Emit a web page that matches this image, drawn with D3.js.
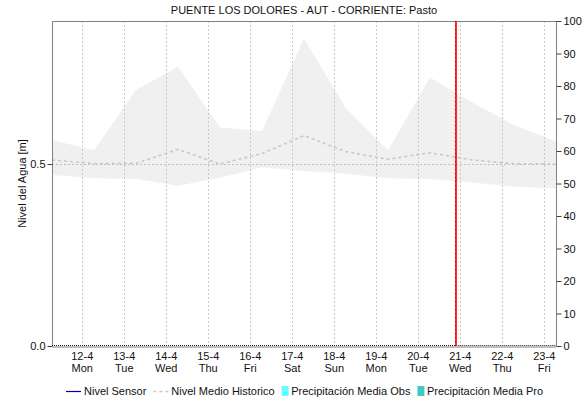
<!DOCTYPE html>
<html><head><meta charset="utf-8">
<script src="https://cdn.jsdelivr.net/npm/d3@7"></script>
<style>
html,body{margin:0;padding:0;background:#fff;}
svg{display:block;font-family:"Liberation Sans",Arial,sans-serif;}
</style></head><body>
<svg id="c" width="582" height="405"></svg>
<script>
const title = "PUENTE LOS DOLORES - AUT - CORRIENTE: Pasto";
const yLabel = "Nivel del Agua [m]";
const pointTimes = ["2021-04-11T07:00Z","2021-04-12T07:00Z","2021-04-13T07:00Z","2021-04-14T07:00Z","2021-04-15T07:00Z","2021-04-16T07:00Z","2021-04-17T07:00Z","2021-04-18T07:00Z","2021-04-19T07:00Z","2021-04-20T07:00Z","2021-04-21T07:00Z","2021-04-22T07:00Z","2021-04-23T07:00Z"];
const bandMax = [0.566,0.538,0.703,0.767,0.600,0.591,0.845,0.653,0.538,0.738,0.670,0.607,0.562];
const bandMin = [0.470,0.461,0.459,0.440,0.462,0.491,0.481,0.473,0.461,0.459,0.449,0.438,0.433];
const meanHist = [0.511,0.501,0.502,0.540,0.500,0.529,0.578,0.534,0.513,0.531,0.511,0.501,0.500];
const sensorTimes = ["2021-04-11T07:00Z","2021-04-20T22:00Z"];
const sensorValues = [0,0];
const nowTime = "2021-04-20T22:00Z";
const tickDates = ["2021-04-12","2021-04-13","2021-04-14","2021-04-15","2021-04-16","2021-04-17","2021-04-18","2021-04-19","2021-04-20","2021-04-21","2021-04-22","2021-04-23"];
const dayLabels = ["12-4","13-4","14-4","15-4","16-4","17-4","18-4","19-4","20-4","21-4","22-4","23-4"];
const weekdayLabels = ["Mon","Tue","Wed","Thu","Fri","Sat","Sun","Mon","Tue","Wed","Thu","Fri"];
const leftTicks = [0, 0.5];
const rightTicks = [0,10,20,30,40,50,60,70,80,90,100];
const legendItems = [
  {name:"Nivel Sensor", type:"line", color:"#0000aa"},
  {name:"Nivel Medio Historico", type:"dash", color:"#c8c8c8"},
  {name:"Precipitación Media Obs", type:"box", color:"#66ffff"},
  {name:"Precipitación Media Pro", type:"box", color:"#40c8c8"}
];

const svg = d3.select("#c");
const L = 52, R = 556, T = 21, B = 346;
const x = d3.scaleUtc().domain([new Date("2021-04-11T07:00Z"), new Date("2021-04-23T07:00Z")]).range([L, R]);
const yL = d3.scaleLinear().domain([0, 0.8929]).range([B, T]);
const yR = d3.scaleLinear().domain([0, 100]).range([B, T]);

const pts = pointTimes.map((t,i)=>({t:new Date(t), hi:bandMax[i], lo:bandMin[i], m:meanHist[i]}));

// band
svg.append("path").datum(pts)
  .attr("d", d3.area().x(d=>x(d.t)).y0(d=>yL(d.lo)).y1(d=>yL(d.hi)))
  .attr("fill","#f0f0f0");

// vertical grid
svg.append("g").selectAll("line").data(tickDates).join("line")
  .attr("x1",d=>Math.round(x(new Date(d+"T00:00Z")))+0.5).attr("x2",d=>Math.round(x(new Date(d+"T00:00Z")))+0.5)
  .attr("y1",T).attr("y2",B)
  .attr("stroke","#c8c8c8").attr("stroke-dasharray","2,2");
// horizontal grid at left ticks
svg.append("g").selectAll("line").data(leftTicks.filter(v=>v>0)).join("line")
  .attr("x1",L).attr("x2",R).attr("y1",d=>Math.round(yL(d))+0.5).attr("y2",d=>Math.round(yL(d))+0.5)
  .attr("stroke","#c0c0c0").attr("stroke-dasharray","2,2");

// mean historic line
svg.append("path").datum(pts)
  .attr("d", d3.line().x(d=>x(d.t)).y(d=>yL(d.m)))
  .attr("fill","none").attr("stroke","#c8c8c8").attr("stroke-width",1.6).attr("stroke-dasharray","3,3");

// frame
svg.append("line").attr("x1",L).attr("x2",R).attr("y1",T+0.5).attr("y2",T+0.5).attr("stroke","#808080");

// left axis
const gl = svg.append("g").attr("transform",`translate(${L+0.5},0)`)
  .call(d3.axisLeft(yL).tickValues(leftTicks).tickFormat(d3.format(".1f")).tickSize(5).tickPadding(2));
// right axis
const gr = svg.append("g").attr("transform",`translate(${R+0.5},0)`)
  .call(d3.axisRight(yR).tickValues(rightTicks).tickSize(5).tickPadding(2));
[gl,gr].forEach(g=>{
  g.select(".domain").attr("stroke","#808080").attr("d", `M0,${T}V${B}`);
  g.selectAll(".tick line").attr("stroke","#404040");
  g.selectAll("text").attr("font-size","11px").attr("fill","#111").attr("font-family","Liberation Sans, Arial, sans-serif");
});

// bottom axis
const gb = svg.append("g").attr("transform",`translate(0,${B+0.5})`)
  .call(d3.axisBottom(x).tickValues(tickDates.map(d=>new Date(d+"T00:00Z"))).tickSize(0).tickFormat(""));
gb.select(".domain").attr("stroke","#808080");
gb.selectAll(".tick").each(function(d,i){
  const t = d3.select(this);
  t.append("text").attr("y",13).attr("text-anchor","middle").attr("font-size","11px").attr("fill","#111").text(dayLabels[i]);
  t.append("text").attr("y",25).attr("text-anchor","middle").attr("font-size","11px").attr("fill","#111").text(weekdayLabels[i]);
});

// sensor line (zero, dotted dark)
svg.append("path").datum(sensorTimes.map((t,i)=>({t:new Date(t), v:sensorValues[i]})))
  .attr("d", d3.line().x(d=>x(d.t)).y(d=>yL(d.v)-0.5))
  .attr("fill","none").attr("stroke","#202020").attr("stroke-dasharray","1,1");
svg.append("line").attr("x1",x(new Date(sensorTimes[1]))).attr("x2",R).attr("y1",B-0.5).attr("y2",B-0.5)
  .attr("stroke","#202020").attr("stroke-dasharray","1,1");

// now line
const nx = Math.round(x(new Date(nowTime)));
svg.append("line").attr("x1",nx).attr("x2",nx).attr("y1",T).attr("y2",B).attr("stroke","#ff2a2a").attr("stroke-width",2);
svg.append("line").attr("x1",nx-0.5).attr("x2",nx-0.5).attr("y1",T).attr("y2",B).attr("stroke","#c00000").attr("stroke-width",1).attr("stroke-dasharray","1,3");

// title
svg.append("text").attr("x",(L+R)/2).attr("y",14).attr("text-anchor","middle").attr("font-size","11px").attr("fill","#111").text(title);
// y label
svg.append("text").attr("transform",`translate(26,${(T+B)/2}) rotate(-90)`).attr("text-anchor","middle").attr("font-size","11px").attr("fill","#111").text(yLabel);

// legend
const lg = svg.append("g");
let cx = 0;
legendItems.forEach(it=>{
  const g = lg.append("g").attr("transform",`translate(${cx},0)`);
  let sw;
  if(it.type==="box"){
    g.append("rect").attr("x",0).attr("y",-5).attr("width",7).attr("height",10).attr("fill",it.color);
    sw = 9.5;
  } else {
    g.append("line").attr("x1",0).attr("x2",15).attr("y1",0.5).attr("y2",0.5).attr("stroke",it.color)
      .attr("stroke-width", it.type==="dash"?1.6:1.2).attr("stroke-dasharray", it.type==="dash"?"3,3":null);
    sw = 18;
  }
  const tx = g.append("text").attr("x",sw).attr("y",4).attr("font-size","11px").attr("fill","#111").text(it.name);
  cx += sw + tx.node().getComputedTextLength() + 7;
});
const tw = cx - 7;
lg.attr("transform",`translate(${Math.round(305 - tw/2)},391)`);
</script>
</body></html>
